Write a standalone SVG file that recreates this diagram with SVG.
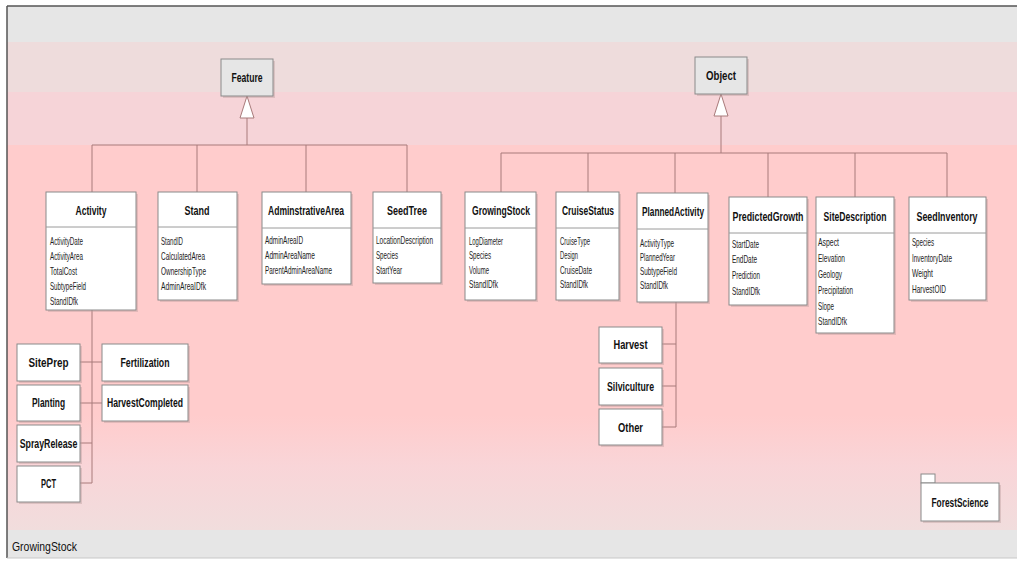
<svg xmlns="http://www.w3.org/2000/svg" width="1017" height="563" viewBox="0 0 1017 563">
<defs>
<linearGradient id="low" x1="0" y1="0" x2="0" y2="1">
<stop offset="0" stop-color="#ffcccc"/>
<stop offset="0.45" stop-color="#f9d5d8"/>
<stop offset="1" stop-color="#f1dddd"/>
</linearGradient>
<style>
.box{fill:#ffffff;stroke:#8a8a8a;stroke-width:1}
.gbox{fill:#e6e6e6;stroke:#8a8a8a;stroke-width:1}
.shd{fill:#b89a9a;opacity:0.4}
.sep{stroke:#9a9a9a;stroke-width:1}
.hd{font-family:"Liberation Sans",Arial,sans-serif;font-weight:bold;font-size:13px;fill:#111;text-anchor:middle}
.at{font-family:"Liberation Sans",Arial,sans-serif;font-size:10px;fill:#222}
.cn{stroke:#a87a7a;stroke-width:1;fill:none}
.tri{fill:#ffffff;stroke:#a87a7a;stroke-width:1}
.lbl{font-family:"Liberation Sans",Arial,sans-serif;font-size:12.5px;fill:#111}
</style>
</defs>
<rect x="0" y="0" width="1017" height="563" fill="#ffffff"/>
<g id="background">
<rect x="7" y="6" width="1010" height="36" fill="#e6e6e6"/>
<rect x="7" y="42" width="1010" height="50" fill="#eedcdc"/>
<rect x="7" y="92" width="1010" height="53" fill="#f6d4d8"/>
<rect x="7" y="145" width="1010" height="270" fill="#ffcccc"/>
<rect x="7" y="415" width="1010" height="115" fill="url(#low)"/>
<rect x="7" y="530" width="1010" height="28" fill="#e6e6e6"/>
<line x1="7" y1="6" x2="1017" y2="6" stroke="#555" stroke-width="1.5"/>
<line x1="7" y1="6" x2="7" y2="558" stroke="#555" stroke-width="1.5"/>
<line x1="7" y1="558" x2="1017" y2="558" stroke="#c8c8c8" stroke-width="1"/>
<text class="lbl" transform="translate(12 551) scale(0.83 1)" textLength="78.3" lengthAdjust="spacingAndGlyphs">GrowingStock</text>
</g>
<g id="connectors">
<path class="cn" d="M247 118V145M92 145H407M92 145V192M197 145V192M306 145V192M407 145V192"/>
<polygon class="tri" points="247,96 240,118 254,118"/>
<path class="cn" d="M721 116V153M501 153H947M501 153V192M588 153V192M675 153V193M768 153V197M855 153V197M947 153V197"/>
<polygon class="tri" points="721,94 714,116 728,116"/>
<path class="cn" d="M92 310V483M80 362H102M80 403H102M80 443H92M80 483H92"/>
<path class="cn" d="M676 302V427M662 344H676M662 386H676M662 427H676"/>
</g>
<g id="feature">
<rect class="shd" x="223" y="61" width="52" height="37"/>
<rect class="gbox" x="221" y="59" width="52" height="37"/>
<text class="hd" transform="translate(247 82) scale(0.62 1)" textLength="50" lengthAdjust="spacingAndGlyphs">Feature</text>
</g>
<g id="object">
<rect class="shd" x="697" y="59" width="52" height="37"/>
<rect class="gbox" x="695" y="57" width="52" height="37"/>
<text class="hd" transform="translate(721 80) scale(0.62 1)" textLength="48.4" lengthAdjust="spacingAndGlyphs">Object</text>
</g>
<g id="activity">
<rect class="shd" x="48" y="194" width="90" height="118"/>
<rect class="box" x="46" y="192" width="90" height="118"/>
<line class="sep" x1="46" y1="227" x2="136" y2="227"/>
<text class="hd" transform="translate(91 215) scale(0.62 1)" textLength="50" lengthAdjust="spacingAndGlyphs">Activity</text>
<text class="at" transform="translate(50 245) scale(0.65 1)" textLength="50.8" lengthAdjust="spacingAndGlyphs">ActivityDate</text>
<text class="at" transform="translate(50 260) scale(0.65 1)" textLength="50.8" lengthAdjust="spacingAndGlyphs">ActivityArea</text>
<text class="at" transform="translate(50 275) scale(0.65 1)" textLength="41.5" lengthAdjust="spacingAndGlyphs">TotalCost</text>
<text class="at" transform="translate(50 290) scale(0.65 1)" textLength="55.4" lengthAdjust="spacingAndGlyphs">SubtypeField</text>
<text class="at" transform="translate(50 305) scale(0.65 1)" textLength="43.1" lengthAdjust="spacingAndGlyphs">StandIDfk</text>
</g>
<g id="stand">
<rect class="shd" x="160" y="194" width="79" height="108"/>
<rect class="box" x="158" y="192" width="79" height="108"/>
<line class="sep" x1="158" y1="227" x2="237" y2="227"/>
<text class="hd" transform="translate(197 215) scale(0.62 1)" textLength="40.3" lengthAdjust="spacingAndGlyphs">Stand</text>
<text class="at" transform="translate(161 245) scale(0.65 1)" textLength="33.8" lengthAdjust="spacingAndGlyphs">StandID</text>
<text class="at" transform="translate(161 260) scale(0.65 1)" textLength="67.7" lengthAdjust="spacingAndGlyphs">CalculatedArea</text>
<text class="at" transform="translate(161 275) scale(0.65 1)" textLength="69.2" lengthAdjust="spacingAndGlyphs">OwnershipType</text>
<text class="at" transform="translate(161 290) scale(0.65 1)" textLength="69.2" lengthAdjust="spacingAndGlyphs">AdminAreaIDfk</text>
</g>
<g id="adminarea">
<rect class="shd" x="264" y="194" width="89" height="92"/>
<rect class="box" x="262" y="192" width="89" height="92"/>
<line class="sep" x1="262" y1="228" x2="351" y2="228"/>
<text class="hd" transform="translate(306 215) scale(0.62 1)" textLength="122.6" lengthAdjust="spacingAndGlyphs">AdminstrativeArea</text>
<text class="at" transform="translate(265 244) scale(0.65 1)" textLength="58.5" lengthAdjust="spacingAndGlyphs">AdminAreaID</text>
<text class="at" transform="translate(265 259) scale(0.65 1)" textLength="76.9" lengthAdjust="spacingAndGlyphs">AdminAreaName</text>
<text class="at" transform="translate(265 274) scale(0.65 1)" textLength="103.1" lengthAdjust="spacingAndGlyphs">ParentAdminAreaName</text>
</g>
<g id="seedtree">
<rect class="shd" x="375" y="194" width="68" height="91"/>
<rect class="box" x="373" y="192" width="68" height="91"/>
<line class="sep" x1="373" y1="228" x2="441" y2="228"/>
<text class="hd" transform="translate(407 215) scale(0.62 1)" textLength="64.5" lengthAdjust="spacingAndGlyphs">SeedTree</text>
<text class="at" transform="translate(376 244) scale(0.65 1)" textLength="87.7" lengthAdjust="spacingAndGlyphs">LocationDescription</text>
<text class="at" transform="translate(376 259) scale(0.65 1)" textLength="33.8" lengthAdjust="spacingAndGlyphs">Species</text>
<text class="at" transform="translate(376 274) scale(0.65 1)" textLength="40" lengthAdjust="spacingAndGlyphs">StartYear</text>
</g>
<g id="growingstock">
<rect class="shd" x="467" y="194" width="71" height="108"/>
<rect class="box" x="465" y="192" width="71" height="108"/>
<line class="sep" x1="465" y1="228" x2="536" y2="228"/>
<text class="hd" transform="translate(501 215) scale(0.62 1)" textLength="93.5" lengthAdjust="spacingAndGlyphs">GrowingStock</text>
<text class="at" transform="translate(469 245) scale(0.65 1)" textLength="52.3" lengthAdjust="spacingAndGlyphs">LogDiameter</text>
<text class="at" transform="translate(469 259) scale(0.65 1)" textLength="33.8" lengthAdjust="spacingAndGlyphs">Species</text>
<text class="at" transform="translate(469 274) scale(0.65 1)" textLength="30.8" lengthAdjust="spacingAndGlyphs">Volume</text>
<text class="at" transform="translate(469 288) scale(0.65 1)" textLength="44.6" lengthAdjust="spacingAndGlyphs">StandIDfk</text>
</g>
<g id="cruisestatus">
<rect class="shd" x="558" y="194" width="63" height="108"/>
<rect class="box" x="556" y="192" width="63" height="108"/>
<line class="sep" x1="556" y1="228" x2="619" y2="228"/>
<text class="hd" transform="translate(588 215) scale(0.62 1)" textLength="83.9" lengthAdjust="spacingAndGlyphs">CruiseStatus</text>
<text class="at" transform="translate(560 245) scale(0.65 1)" textLength="46.2" lengthAdjust="spacingAndGlyphs">CruiseType</text>
<text class="at" transform="translate(560 259) scale(0.65 1)" textLength="27.7" lengthAdjust="spacingAndGlyphs">Design</text>
<text class="at" transform="translate(560 274) scale(0.65 1)" textLength="49.2" lengthAdjust="spacingAndGlyphs">CruiseDate</text>
<text class="at" transform="translate(560 288) scale(0.65 1)" textLength="43.1" lengthAdjust="spacingAndGlyphs">StandIDfk</text>
</g>
<g id="plannedactivity">
<rect class="shd" x="639" y="195" width="71" height="109"/>
<rect class="box" x="637" y="193" width="71" height="109"/>
<line class="sep" x1="637" y1="229" x2="708" y2="229"/>
<text class="hd" transform="translate(673 216) scale(0.62 1)" textLength="100" lengthAdjust="spacingAndGlyphs">PlannedActivity</text>
<text class="at" transform="translate(640 247) scale(0.65 1)" textLength="52.3" lengthAdjust="spacingAndGlyphs">ActivityType</text>
<text class="at" transform="translate(640 261) scale(0.65 1)" textLength="53.8" lengthAdjust="spacingAndGlyphs">PlannedYear</text>
<text class="at" transform="translate(640 275) scale(0.65 1)" textLength="56.9" lengthAdjust="spacingAndGlyphs">SubtypeField</text>
<text class="at" transform="translate(640 289) scale(0.65 1)" textLength="43.1" lengthAdjust="spacingAndGlyphs">StandIDfk</text>
</g>
<g id="predictedgrowth">
<rect class="shd" x="731" y="199" width="78" height="108"/>
<rect class="box" x="729" y="197" width="78" height="108"/>
<line class="sep" x1="729" y1="233" x2="807" y2="233"/>
<text class="hd" transform="translate(768 221) scale(0.62 1)" textLength="114.5" lengthAdjust="spacingAndGlyphs">PredictedGrowth</text>
<text class="at" transform="translate(732 248) scale(0.65 1)" textLength="41.5" lengthAdjust="spacingAndGlyphs">StartDate</text>
<text class="at" transform="translate(732 263) scale(0.65 1)" textLength="38.5" lengthAdjust="spacingAndGlyphs">EndDate</text>
<text class="at" transform="translate(732 279) scale(0.65 1)" textLength="43.1" lengthAdjust="spacingAndGlyphs">Prediction</text>
<text class="at" transform="translate(732 295) scale(0.65 1)" textLength="43.1" lengthAdjust="spacingAndGlyphs">StandIDfk</text>
</g>
<g id="sitedescription">
<rect class="shd" x="818" y="199" width="78" height="136"/>
<rect class="box" x="816" y="197" width="78" height="136"/>
<line class="sep" x1="816" y1="233" x2="894" y2="233"/>
<text class="hd" transform="translate(855 221) scale(0.62 1)" textLength="101.6" lengthAdjust="spacingAndGlyphs">SiteDescription</text>
<text class="at" transform="translate(818 246) scale(0.65 1)" textLength="32.3" lengthAdjust="spacingAndGlyphs">Aspect</text>
<text class="at" transform="translate(818 262) scale(0.65 1)" textLength="41.5" lengthAdjust="spacingAndGlyphs">Elevation</text>
<text class="at" transform="translate(818 278) scale(0.65 1)" textLength="36.9" lengthAdjust="spacingAndGlyphs">Geology</text>
<text class="at" transform="translate(818 294) scale(0.65 1)" textLength="53.8" lengthAdjust="spacingAndGlyphs">Precipitation</text>
<text class="at" transform="translate(818 310) scale(0.65 1)" textLength="24.6" lengthAdjust="spacingAndGlyphs">Slope</text>
<text class="at" transform="translate(818 325) scale(0.65 1)" textLength="44.6" lengthAdjust="spacingAndGlyphs">StandIDfk</text>
</g>
<g id="seedinventory">
<rect class="shd" x="911" y="199" width="77" height="103"/>
<rect class="box" x="909" y="197" width="77" height="103"/>
<line class="sep" x1="909" y1="233" x2="986" y2="233"/>
<text class="hd" transform="translate(947 221) scale(0.62 1)" textLength="98.4" lengthAdjust="spacingAndGlyphs">SeedInventory</text>
<text class="at" transform="translate(912 246) scale(0.65 1)" textLength="33.8" lengthAdjust="spacingAndGlyphs">Species</text>
<text class="at" transform="translate(912 262) scale(0.65 1)" textLength="61.5" lengthAdjust="spacingAndGlyphs">InventoryDate</text>
<text class="at" transform="translate(912 277) scale(0.65 1)" textLength="32.3" lengthAdjust="spacingAndGlyphs">Weight</text>
<text class="at" transform="translate(912 293) scale(0.65 1)" textLength="52.3" lengthAdjust="spacingAndGlyphs">HarvestOID</text>
</g>
<g id="siteprep">
<rect class="shd" x="19" y="346" width="63" height="37"/>
<rect class="box" x="17" y="344" width="63" height="37"/>
<text class="hd" transform="translate(48.5 367) scale(0.62 1)" textLength="64.5" lengthAdjust="spacingAndGlyphs">SitePrep</text>
</g>
<g id="planting">
<rect class="shd" x="19" y="387" width="63" height="36"/>
<rect class="box" x="17" y="385" width="63" height="36"/>
<text class="hd" transform="translate(48.5 407) scale(0.62 1)" textLength="53.2" lengthAdjust="spacingAndGlyphs">Planting</text>
</g>
<g id="sprayrelease">
<rect class="shd" x="19" y="427" width="63" height="37"/>
<rect class="box" x="17" y="425" width="63" height="37"/>
<text class="hd" transform="translate(48.5 448) scale(0.62 1)" textLength="93" lengthAdjust="spacingAndGlyphs">SprayRelease</text>
</g>
<g id="pct">
<rect class="shd" x="19" y="468" width="63" height="36"/>
<rect class="box" x="17" y="466" width="63" height="36"/>
<text class="hd" transform="translate(48.5 488) scale(0.62 1)" textLength="24.2" lengthAdjust="spacingAndGlyphs">PCT</text>
</g>
<g id="fertilization">
<rect class="shd" x="104" y="346" width="86" height="37"/>
<rect class="box" x="102" y="344" width="86" height="37"/>
<text class="hd" transform="translate(145 367) scale(0.62 1)" textLength="79" lengthAdjust="spacingAndGlyphs">Fertilization</text>
</g>
<g id="harvestcompleted">
<rect class="shd" x="104" y="387" width="86" height="36"/>
<rect class="box" x="102" y="385" width="86" height="36"/>
<text class="hd" transform="translate(145 407) scale(0.62 1)" textLength="122.6" lengthAdjust="spacingAndGlyphs">HarvestCompleted</text>
</g>
<g id="harvest">
<rect class="shd" x="601" y="329" width="63" height="36"/>
<rect class="box" x="599" y="327" width="63" height="36"/>
<text class="hd" transform="translate(630.5 349) scale(0.62 1)" textLength="54.8" lengthAdjust="spacingAndGlyphs">Harvest</text>
</g>
<g id="silviculture">
<rect class="shd" x="601" y="370" width="63" height="37"/>
<rect class="box" x="599" y="368" width="63" height="37"/>
<text class="hd" transform="translate(630.5 391) scale(0.62 1)" textLength="75.8" lengthAdjust="spacingAndGlyphs">Silviculture</text>
</g>
<g id="other">
<rect class="shd" x="601" y="411" width="63" height="36"/>
<rect class="box" x="599" y="409" width="63" height="36"/>
<text class="hd" transform="translate(630.5 432) scale(0.62 1)" textLength="40.3" lengthAdjust="spacingAndGlyphs">Other</text>
</g>
<g id="forestscience">
<rect class="shd" x="923" y="485" width="78" height="38"/>
<rect class="box" x="921" y="474" width="14" height="9"/>
<rect class="box" x="921" y="483" width="78" height="38"/>
<text class="hd" transform="translate(960 507) scale(0.62 1)" textLength="91.9" lengthAdjust="spacingAndGlyphs">ForestScience</text>
</g>
</svg>
